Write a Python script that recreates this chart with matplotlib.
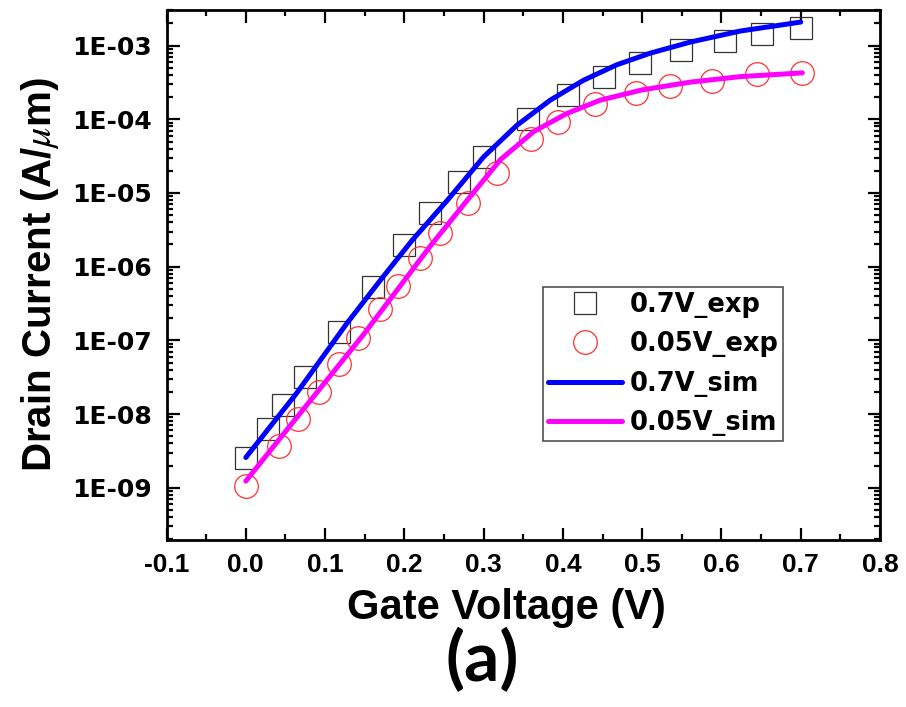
import matplotlib
matplotlib.use("Agg")
import matplotlib.pyplot as plt
from matplotlib.ticker import LogLocator, MultipleLocator, NullFormatter

# ---------------- data ----------------
exp_07_v = [0.0, 0.0286, 0.0475, 0.0749, 0.1178, 0.1599, 0.1999, 0.2327, 0.2684,
            0.3009, 0.356, 0.406, 0.4524, 0.497, 0.5496, 0.604, 0.6515, 0.7008]
exp_07_i = [2.56e-9, 6.3e-9, 1.31e-8, 3.18e-8, 1.28e-7, 5.3e-7, 1.96e-6, 5.38e-6, 1.42e-5,
            3.1e-5, 1.0e-4, 2.14e-4, 3.71e-4, 5.87e-4, 8.74e-4, 1.16e-3, 1.43e-3, 1.76e-3]

exp_005_v = [0.0, 0.0425, 0.0664, 0.0926, 0.1178, 0.1414, 0.1687, 0.1914, 0.2192, 0.2445,
             0.2798, 0.3169, 0.360, 0.3934, 0.441, 0.4924, 0.5357, 0.5875, 0.645, 0.701]
exp_005_i = [1.04e-9, 3.67e-9, 8.5e-9, 2.0e-8, 4.84e-8, 1.09e-7, 2.7e-7, 5.43e-7, 1.32e-6, 2.83e-6,
             7.36e-6, 1.88e-5, 5.35e-5, 9.27e-5, 1.61e-4, 2.25e-4, 2.87e-4, 3.34e-4, 4.12e-4, 4.22e-4]

sim_07_v = [0.0, 0.064, 0.1275, 0.17, 0.21, 0.254, 0.30, 0.342, 0.384, 0.426,
            0.468, 0.51, 0.561, 0.624, 0.70]
sim_07_i = [2.57e-9, 1.91e-8, 1.70e-7, 6.6e-7, 2.29e-6, 7.9e-6, 3.09e-5, 8.3e-5, 1.82e-4, 3.39e-4,
            5.5e-4, 7.9e-4, 1.12e-3, 1.58e-3, 2.09e-3]

sim_005_v = [0.0, 0.064, 0.1485, 0.2327, 0.279, 0.321, 0.363, 0.405, 0.447, 0.50,
             0.561, 0.624, 0.702]
sim_005_i = [1.23e-9, 8.9e-9, 1.20e-7, 1.9e-6, 7.9e-6, 2.82e-5, 6.8e-5, 1.20e-4, 1.82e-4, 2.51e-4,
             3.20e-4, 3.80e-4, 4.27e-4]

labels = ["0.7V_exp", "0.05V_exp", "0.7V_sim", "0.05V_sim"]
x_ticks = [-0.1, 0.0, 0.1, 0.2, 0.3, 0.4, 0.5, 0.6, 0.7, 0.8]
y_ticks = [1e-9, 1e-8, 1e-7, 1e-6, 1e-5, 1e-4, 1e-3]
y_tick_labels = ["1E-09", "1E-08", "1E-07", "1E-06", "1E-05", "1E-04", "1E-03"]

# ---------------- fonts ----------------
plt.rcParams['font.family'] = ['Liberation Sans', 'DejaVu Sans']
plt.rcParams['mathtext.fontset'] = 'stix'
wide = ['DejaVu Sans']

fig = plt.figure(figsize=(9.06, 7.07), dpi=100)
ax = fig.add_axes([0.1838, 0.2362, 0.7875, 0.7497])

ax.plot(exp_07_v, exp_07_i, linestyle='none', marker='s', markersize=15.5,
        markerfacecolor='none', markeredgecolor='#333333', markeredgewidth=0.9,
        label=labels[0], zorder=2)
ax.plot(exp_005_v, exp_005_i, linestyle='none', marker='o', markersize=17,
        markerfacecolor='none', markeredgecolor='#ff3030', markeredgewidth=0.9,
        label=labels[1], zorder=2)
ax.plot(sim_07_v, sim_07_i, color='#0000ff', linewidth=3.6, label=labels[2],
        solid_capstyle='round', solid_joinstyle='round', zorder=3)
ax.plot(sim_005_v, sim_005_i, color='#ff00ff', linewidth=3.6, label=labels[3],
        solid_capstyle='round', solid_joinstyle='round', zorder=3)

ax.set_yscale('log')
ax.set_xlim(-0.1, 0.8)
ax.set_ylim(1.95e-10, 3.05e-3)

ax.set_xticks(x_ticks)
ax.set_xticklabels([f"{v:.1f}" for v in x_ticks])
ax.xaxis.set_minor_locator(MultipleLocator(0.05))
ax.set_yticks(y_ticks)
ax.set_yticklabels(y_tick_labels)
ax.yaxis.set_minor_locator(LogLocator(base=10, subs=[2, 3, 4, 5, 6, 7, 8, 9], numticks=30))
ax.yaxis.set_minor_formatter(NullFormatter())

ax.tick_params(which='both', direction='in', top=True, right=True, width=1.6)
ax.tick_params(which='major', length=9)
ax.tick_params(which='minor', length=4.5)
ax.tick_params(axis='x', which='major', labelsize=19, pad=9.0)
ax.tick_params(axis='y', which='major', labelsize=18, pad=10.7)
for lab in ax.get_xticklabels():
    lab.set_fontweight('bold')
for lab in ax.get_yticklabels():
    lab.set_fontweight('bold')
    lab.set_family(wide)
for s in ax.spines.values():
    s.set_linewidth(2.0)

ax.set_xlabel("Gate Voltage (V)", fontsize=30, fontweight='bold')
ax.xaxis.set_label_coords(0.477, -0.128)
ax.xaxis.label.set_va('center')
ax.set_ylabel(r"Drain Current (A/$\mu$m)", fontsize=29, fontweight='bold', labelpad=8)

leg = ax.legend(loc='upper left', bbox_to_anchor=(0.527, 0.478), frameon=True,
                fancybox=False, edgecolor='#444444', framealpha=1,
                prop={'weight': 'bold', 'size': 18.5, 'family': wide},
                handlelength=2.9, handletextpad=0.28, labelspacing=0.52,
                borderpad=0.2, borderaxespad=0.0)
leg.get_frame().set_linewidth(1.1)

fig.text(0.532, 0.066, "(a)", fontsize=50, fontweight='bold',
         family=['Lato', 'DejaVu Sans'], ha='center', va='center')

fig.savefig("out.png", dpi=100)
